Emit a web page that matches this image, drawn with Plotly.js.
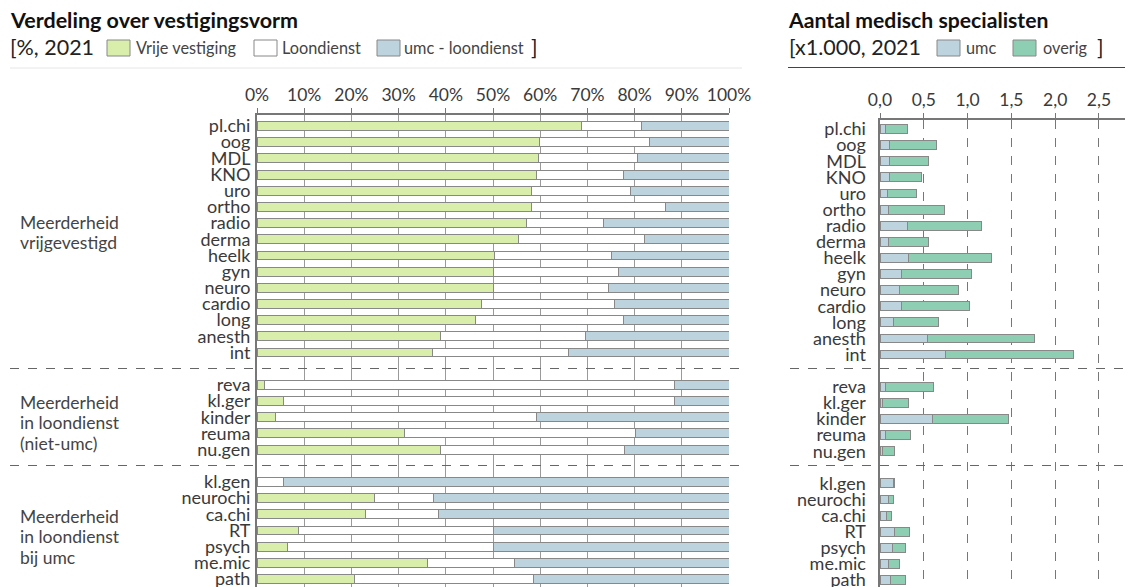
<!DOCTYPE html>
<html>
<head>
<meta charset="utf-8">
<script src="https://cdn.plot.ly/plotly-3.0.1.min.js"></script>
<style>html,body{margin:0;padding:0;background:#fff;}#chart{width:1125px;height:587px;}</style>
</head>
<body>
<div id="chart"></div>
<script>
// ---- categories (three groups) ----
const group1 = ['pl.chi','oog','MDL','KNO','uro','ortho','radio','derma','heelk','gyn','neuro','cardio','long','anesth','int'];
const group2 = ['reva','kl.ger','kinder','reuma','nu.gen'];
const group3 = ['kl.gen','neurochi','ca.chi','RT','psych','me.mic','path'];
const groupLabels = [['Meerderheid','vrijgevestigd'], ['Meerderheid','in loondienst','(niet-umc)'], ['Meerderheid','in loondienst','bij umc']];

// ---- left panel: % per vestigingsvorm ----
const vrijeVestiging = [68.8,59.9,59.6,59.2,58.2,58.2,57.0,55.3,50.4,50.0,50.0,47.6,46.2,38.9,37.1, 1.5,5.7,3.9,31.2,38.8, 0,24.9,22.9,8.7,6.5,36.2,20.7];
const loondienst     = [12.6,23.3,21.1,18.4,20.9,28.3,16.4,26.9,24.6,26.5,24.4,28.2,31.4,30.6,29.0, 86.9,82.7,55.3,48.9,39.0, 5.7,12.5,15.5,41.3,43.5,18.3,37.8];
const umcLoondienst  = [18.6,16.8,19.3,22.4,20.9,13.5,26.6,17.8,25.0,23.5,25.6,24.2,22.4,30.5,33.9, 11.6,11.6,40.8,19.9,22.2, 94.3,62.6,61.6,50.0,50.0,45.5,41.5];

// ---- right panel: aantal (x1.000) ----
const umcAantal    = [0.061,0.107,0.107,0.107,0.084,0.095,0.312,0.095,0.320,0.251,0.228,0.251,0.152,0.537,0.750, 0.068,0.034,0.597,0.065,0.034, 0.155,0.095,0.076,0.167,0.148,0.095,0.118];
const overigAantal = [0.255,0.540,0.452,0.372,0.331,0.639,0.845,0.464,0.951,0.799,0.670,0.776,0.514,1.232,1.457, 0.541,0.293,0.872,0.285,0.133, 0.008,0.057,0.053,0.168,0.141,0.122,0.171];

const pctTicks = [0,10,20,30,40,50,60,70,80,90,100];
const pctTickText = ['0%','10%','20%','30%','40%','50%','60%','70%','80%','90%','100%'];
const cntTicks = [0,0.5,1.0,1.5,2.0,2.5];

// colours
const cGreen = '#d9eeaa', cWhite = '#ffffff', cBlue = '#bdd4df', cOverig = '#8ecfb3', cEdge = '#888888';

// row positions: one empty row between groups
const cats = [], pos = [];
let p = 0;
[group1, group2, group3].forEach(g => {
  g.forEach(c => { cats.push(c); pos.push(p); p++; });
  p++;
});

const W = 1125, H = 587;
const px = x => x / W;
const py = y => 1 - y / H;
const font = 'Lato, "Open Sans", sans-serif';
const barW = 0.55;

function bar(x, color, xa, ya, name) {
  return {type:'bar', orientation:'h', x:x, y:pos, name:name, width:barW,
    marker:{color:color, line:{color:cEdge, width:1}}, xaxis:xa, yaxis:ya,
    showlegend:false, hoverinfo:'x+name'};
}

const data = [
  bar(vrijeVestiging, cGreen, 'x', 'y', 'Vrije vestiging'),
  bar(loondienst, cWhite, 'x', 'y', 'Loondienst'),
  bar(umcLoondienst, cBlue, 'x', 'y', 'umc - loondienst'),
  bar(umcAantal, cBlue, 'x2', 'y2', 'umc'),
  bar(overigAantal, cOverig, 'x2', 'y2', 'overig')
];

const shapes = [];
const annotations = [];
// separators
[368.5, 465.5].forEach(y => {
  shapes.push({type:'line', xref:'paper', yref:'paper', x0:px(10), x1:px(740), y0:py(y), y1:py(y), line:{color:'#666', width:1, dash:'dash'}, layer:'above'});
  shapes.push({type:'line', xref:'paper', yref:'paper', x0:px(790), x1:1, y0:py(y), y1:py(y), line:{color:'#666', width:1, dash:'dash'}, layer:'above'});
});
// header rules
shapes.push({type:'line', xref:'paper', yref:'paper', x0:px(10), x1:px(742), y0:py(68), y1:py(68), line:{color:'#e6e6e6', width:1}});
shapes.push({type:'line', xref:'paper', yref:'paper', x0:px(788), x1:1, y0:py(67.5), y1:py(67.5), line:{color:'#444', width:1}});

function swatch(x0, color) {
  shapes.push({type:'rect', xref:'paper', yref:'paper', x0:px(x0), x1:px(x0+23), y0:py(56), y1:py(40), fillcolor:color, line:{color:cEdge, width:1}});
}
function txt(x, y, text, size, color, anchor) {
  annotations.push({xref:'paper', yref:'paper', x:px(x), y:py(y), text:text, showarrow:false,
    xanchor:anchor || 'left', yanchor:'middle', align:'left', font:{family:font, size:size, color:color}});
}
// titles
txt(8, 20, '<b>Verdeling over vestigingsvorm</b>', 21.5, '#111');
txt(8, 47, '[%, 2021', 21.5, '#222');
swatch(107, cGreen); txt(134, 48, 'Vrije vestiging', 16.3, '#444');
swatch(254, cWhite); txt(280, 48, 'Loondienst', 16.3, '#444');
swatch(377, cBlue); txt(402, 48, 'umc - loondienst', 16.3, '#444');
txt(529, 47, ']', 21.5, '#222');

txt(786, 20, '<b>Aantal medisch specialisten</b>', 21.2, '#111');
txt(787, 47, '[x1.000, 2021', 21.5, '#222');
swatch(937, cBlue); txt(964, 48, 'umc', 16.3, '#444');
swatch(1013, cOverig); txt(1041, 48, 'overig', 16.3, '#444');
txt(1095, 47, ']', 21.5, '#222');

// group labels
const groupY = [222, 402, 516];
groupLabels.forEach((lines, gi) => {
  lines.forEach((l, li) => txt(18, groupY[gi] + li * 20.5, l, 17.5, '#444'));
});

const axFont = {family:font, size:17.5, color:'#3a3a3a'};
const layout = {
  width:W, height:H, margin:{l:0, r:0, t:0, b:0},
  paper_bgcolor:'#fff', plot_bgcolor:'rgba(0,0,0,0)',
  barmode:'stack', separators:',.', showlegend:false,
  font:{family:font, color:'#333'},
  xaxis:{domain:[px(257), px(729)], range:[0,100], side:'top', anchor:'y',
    tickvals:pctTicks, ticktext:pctTickText, ticks:'outside', ticklen:5, tickcolor:'#777', tickwidth:1,
    showline:true, linecolor:'#777', linewidth:2, showgrid:true, gridcolor:'#9a9a9a', gridwidth:1,
    zeroline:false, tickfont:axFont, ticklabelstandoff:0, ticklabeloverflow:'allow', fixedrange:true},
  yaxis:{domain:[0, py(115)], range:[28.49, -0.68], anchor:'x', tickvals:pos, ticktext:cats,
    showline:true, linecolor:'#777', linewidth:2, ticks:'', showgrid:false, zeroline:false,
    tickfont:{family:font, size:18, color:'#3a3a3a'}, ticklabelstandoff:1, ticklabeloverflow:'allow', fixedrange:true},
  xaxis2:{domain:[px(880), 1], range:[0, 2.797], side:'top', anchor:'y2',
    tickvals:cntTicks, tickformat:'.1f', ticks:'outside', ticklen:5, tickcolor:'#777', tickwidth:1,
    showline:true, linecolor:'#777', linewidth:2, showgrid:true, gridcolor:'#777', gridwidth:1, griddash:'dash',
    zeroline:false, tickfont:axFont, ticklabelstandoff:0, ticklabeloverflow:'allow', fixedrange:true},
  yaxis2:{domain:[0, py(120)], range:[28.43, -0.56], anchor:'x2', tickvals:pos, ticktext:cats,
    showline:true, linecolor:'#777', linewidth:2.5, ticks:'', showgrid:false, zeroline:false,
    tickfont:{family:font, size:18, color:'#3a3a3a'}, ticklabelstandoff:8, ticklabeloverflow:'allow', fixedrange:true},
  shapes:shapes, annotations:annotations
};

Plotly.newPlot('chart', data, layout, {displayModeBar:false, staticPlot:true});
</script>
</body>
</html>
